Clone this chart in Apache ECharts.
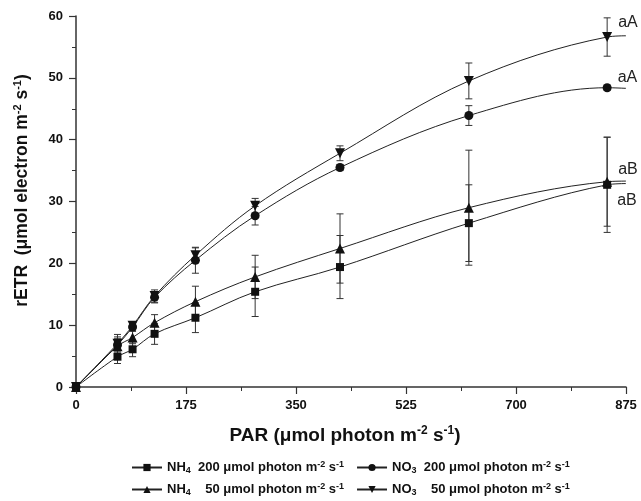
<!DOCTYPE html>
<html>
<head>
<meta charset="utf-8">
<script src="https://cdn.jsdelivr.net/npm/echarts@6/dist/echarts.min.js"></script>
<style>
  html, body { margin: 0; padding: 0; background: #fff; }
  #chart { width: 641px; height: 501px; }
</style>
</head>
<body>
<div id="chart"></div>
<script>
// PAR steps (x) and rETR means / SE per treatment
var par = [0, 66, 90, 125, 190, 285, 420, 625, 845];

var nh4_200 = [0, 4.9, 6.1, 8.6, 11.2, 15.4, 19.4, 26.5, 32.7];
var nh4_200_err = [0, 1.1, 1.2, 1.7, 2.4, 4.0, 5.1, 6.2, 7.7];

var no3_200 = [0, 6.8, 9.7, 14.5, 20.5, 27.7, 35.5, 43.9, 48.4];
var no3_200_err = [0, 1.0, 0.5, 0.9, 2.1, 1.5, 0.5, 1.6, 0.4];

var nh4_50 = [0, 6.6, 8.0, 10.4, 13.8, 17.8, 22.4, 29.0, 33.2];
var nh4_50_err = [0, 1.5, 1.0, 1.3, 2.5, 3.5, 5.6, 9.3, 7.2];

var no3_50 = [0, 7.0, 9.9, 14.7, 21.3, 29.3, 37.8, 49.5, 56.6];
var no3_50_err = [0, 1.5, 0.5, 1.0, 1.2, 1.2, 1.2, 2.9, 3.1];

// value of each fitted curve at the right edge (x = 875)
var curveEnd = [32.9, 48.3, 33.3, 56.8];

var seriesNames = ['NH4 200', 'NO3 200', 'NH4 50', 'NO3 50'];
var seriesText = [
  '{b|NH}{sub|4}{b|  200 μmol photon m}{sup|-2}{b| s}{sup|-1}',
  '{b|NO}{sub|3}{b|  200 μmol photon m}{sup|-2}{b| s}{sup|-1}',
  '{b|NH}{sub|4}{b|    50 μmol photon m}{sup|-2}{b| s}{sup|-1}',
  '{b|NO}{sub|3}{b|    50 μmol photon m}{sup|-2}{b| s}{sup|-1}'
];
var letters = ['aB', 'aA', 'aB', 'aA'];

var means = [nh4_200, no3_200, nh4_50, no3_50];
var errs = [nh4_200_err, no3_200_err, nh4_50_err, no3_50_err];

var symbols = ['rect', 'circle', 'triangle', 'triangle'];
var symbolSizes = [8, 9, 10, 10];
var rotates = [0, 0, 0, 180];
var letterOffsets = [[2, 16], [2, -10], [2, -12], [2, -14]];

var font = '"Liberation Sans", Arial, Helvetica, sans-serif';

var legendRich = {
  b: { fontFamily: font, fontWeight: 'bold', fontSize: 13, color: '#111', lineHeight: 15 },
  sub: { fontFamily: font, fontWeight: 'bold', fontSize: 9, color: '#111', lineHeight: 9, verticalAlign: 'bottom' },
  sup: { fontFamily: font, fontWeight: 'bold', fontSize: 9, color: '#111', lineHeight: 9, verticalAlign: 'top' }
};

function errorBarItem(params, api) {
  var x = api.value(0);
  var lo = api.coord([x, api.value(1)]);
  var hi = api.coord([x, api.value(2)]);
  var w = 3.5;
  var st = { stroke: '#333', lineWidth: 1 };
  return {
    type: 'group',
    children: [
      { type: 'line', shape: { x1: lo[0], y1: lo[1], x2: hi[0], y2: hi[1] }, style: st },
      { type: 'line', shape: { x1: lo[0] - w, y1: lo[1], x2: lo[0] + w, y2: lo[1] }, style: st },
      { type: 'line', shape: { x1: hi[0] - w, y1: hi[1], x2: hi[0] + w, y2: hi[1] }, style: st }
    ]
  };
}

var series = [];

// error bars underneath
for (var k = 0; k < 4; k++) {
  var bars = [];
  for (var i = 1; i < par.length; i++) {
    bars.push([par[i], means[k][i] - errs[k][i], means[k][i] + errs[k][i]]);
  }
  series.push({
    type: 'custom',
    name: seriesNames[k] + ' err',
    renderItem: errorBarItem,
    encode: { x: 0, y: [1, 2] },
    data: bars,
    z: 2,
    silent: true
  });
}

// curves + markers
for (var k = 0; k < 4; k++) {
  var pts = [];
  for (var i = 0; i < par.length; i++) {
    if (i === par.length - 1) {
      pts.push({
        value: [par[i], means[k][i]],
        label: {
          show: true,
          position: 'right',
          distance: 4,
          offset: letterOffsets[k],
          formatter: letters[k],
          fontFamily: font,
          fontSize: 16,
          color: '#222'
        }
      });
    } else {
      pts.push([par[i], means[k][i]]);
    }
  }
  pts.push({ value: [875, curveEnd[k]], symbol: 'none' });
  series.push({
    type: 'line',
    name: seriesNames[k],
    data: pts,
    smooth: 0.35,
    symbol: symbols[k],
    symbolSize: symbolSizes[k],
    symbolRotate: rotates[k],
    showAllSymbol: true,
    lineStyle: { color: '#222', width: 1 },
    itemStyle: { color: '#111', borderWidth: 0 },
    z: 3,
    animation: false
  });
}

var chart = echarts.init(document.getElementById('chart'));

var option = {
  animation: false,
  backgroundColor: '#fff',
  grid: { left: 76, right: 15, top: 16, bottom: 114 },
  legend: [
    {
      data: [seriesNames[0], seriesNames[1]],
      left: 126, top: 455,
      itemWidth: 30, itemHeight: 9, itemGap: 12,
      formatter: function (n) { return seriesText[seriesNames.indexOf(n)]; },
      textStyle: { rich: legendRich },
      selectedMode: false
    },
    {
      data: [seriesNames[2], seriesNames[3]],
      left: 126, top: 477,
      itemWidth: 30, itemHeight: 9, itemGap: 12,
      formatter: function (n) { return seriesText[seriesNames.indexOf(n)]; },
      textStyle: { rich: legendRich },
      selectedMode: false
    }
  ],
  xAxis: {
    type: 'value',
    min: 0, max: 875, interval: 175,
    name: '{t|PAR (μmol photon m}{s|-2}{t| s}{s|-1}{t|)}',
    nameLocation: 'middle',
    nameGap: 38,
    nameTextStyle: {
      padding: [0, 12, 0, 0],
      rich: {
        t: { fontFamily: font, fontWeight: 'bold', fontSize: 19, color: '#111', lineHeight: 22 },
        s: { fontFamily: font, fontWeight: 'bold', fontSize: 12, color: '#111', lineHeight: 11, verticalAlign: 'top' }
      }
    },
    axisLine: { lineStyle: { color: '#333', width: 1.5 } },
    axisTick: { inside: false, length: 7, lineStyle: { color: '#333', width: 1.2 } },
    minorTick: { show: true, splitNumber: 2, length: 4, lineStyle: { color: '#333', width: 1 } },
    axisLabel: { fontFamily: font, fontWeight: 'bold', fontSize: 13, color: '#111', margin: 12 },
    splitLine: { show: false }
  },
  yAxis: {
    type: 'value',
    min: 0, max: 60, interval: 10,
    name: '{t|rETR  (μmol electron m}{s|-2}{t| s}{s|-1}{t|)}',
    nameLocation: 'middle',
    nameRotate: 90,
    nameGap: 44,
    nameTextStyle: {
      padding: [0, 0, 0, 22],
      rich: {
        t: { fontFamily: font, fontWeight: 'bold', fontSize: 17.5, color: '#111', lineHeight: 20 },
        s: { fontFamily: font, fontWeight: 'bold', fontSize: 11, color: '#111', lineHeight: 10, verticalAlign: 'top' }
      }
    },
    axisLine: { show: true, lineStyle: { color: '#333', width: 1.5 } },
    axisTick: { show: true, inside: false, length: 7, lineStyle: { color: '#333', width: 1.2 } },
    minorTick: { show: true, splitNumber: 2, length: 4, lineStyle: { color: '#333', width: 1 } },
    axisLabel: { fontFamily: font, fontWeight: 'bold', fontSize: 13, color: '#111', margin: 13 },
    splitLine: { show: false }
  },
  series: series
};

chart.setOption(option);
</script>
</body>
</html>
